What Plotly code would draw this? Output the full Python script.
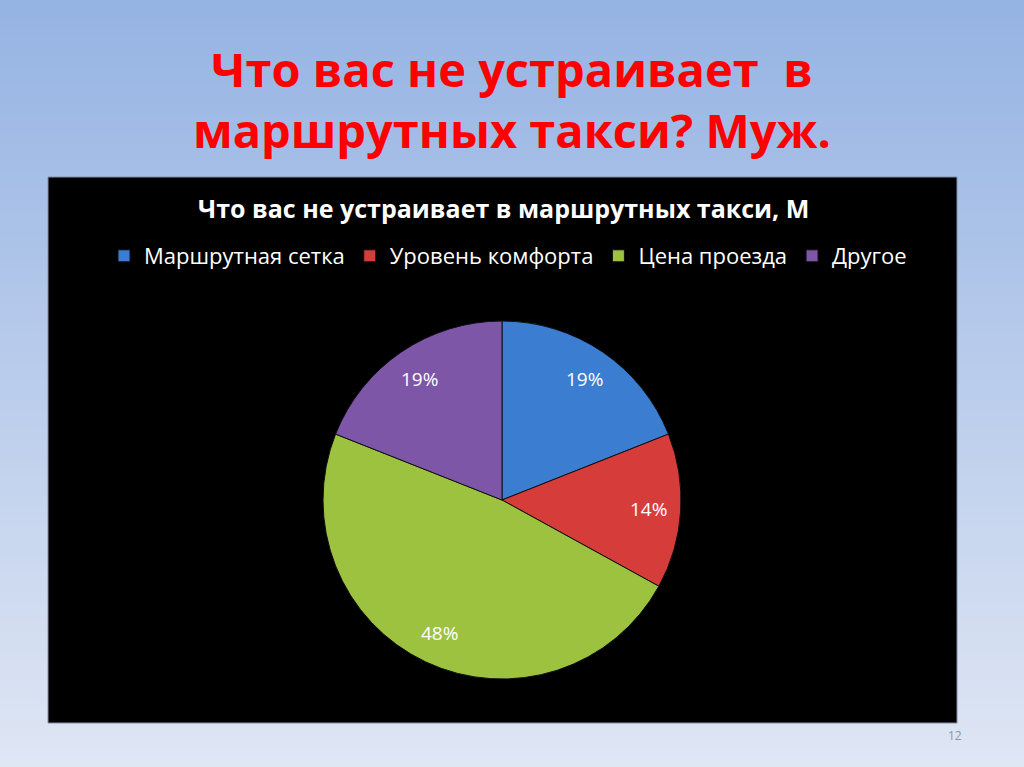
import math
import plotly.graph_objects as go

categories = ['Маршрутная сетка', 'Уровень комфорта', 'Цена проезда', 'Другое']
values = [19, 14, 48, 19]
colors = ['#3b7dd0', '#d63c3a', '#9cc23f', '#7d56a8']

slide_title = 'Что вас не устраивает  в<br>маршрутных такси? Муж.'
chart_title = 'Что вас не устраивает в маршрутных такси, М'
page_number = '12'

W, H = 1024, 767
# pie placement in pixels
cx, cy, R = 502, 500, 179

fig = go.Figure()

fig.add_trace(
    go.Pie(
        labels=categories,
        values=values,
        sort=False,
        direction='clockwise',
        rotation=0,
        marker=dict(colors=colors, line=dict(color='#101010', width=1)),
        textinfo='none',
        hoverinfo='label+percent',
        domain=dict(x=[(cx - R) / W, (cx + R) / W], y=[1 - (cy + R) / H, 1 - (cy - R) / H]),
    )
)

# data labels, placed like Excel does (towards the outer part of each slice)
annotations = []
total = sum(values)
acc = 0
for v in values:
    mid = (acc + v / 2) / total * 2 * math.pi
    acc += v
    r = 0.82 * R
    annotations.append(dict(
        text='%d%%' % round(v / total * 100),
        x=(cx + r * math.sin(mid)) / W, y=1 - (cy - r * math.cos(mid)) / H,
        xref='paper', yref='paper', xanchor='center', yanchor='middle',
        showarrow=False, font=dict(family='Open Sans', size=19, color='white'),
    ))

# slide background: vertical gradient built from thin bands
top = (149, 179, 227)
bottom = (223, 230, 244)
shapes = []
n = 80
for i in range(n):
    t = i / (n - 1)
    c = tuple(round(top[k] + (bottom[k] - top[k]) * t) for k in range(3))
    shapes.append(dict(
        type='rect', xref='paper', yref='paper',
        x0=0, x1=1, y0=1 - (i + 1) / n, y1=1 - i / n + 0.002,
        fillcolor='rgb(%d,%d,%d)' % c, line=dict(width=0), layer='below'
    ))
# black chart area
shapes.append(dict(
    type='rect', xref='paper', yref='paper',
    x0=48 / W, x1=957 / W, y0=1 - 723 / H, y1=1 - 177 / H,
    fillcolor='black', line=dict(color='#7f8fa8', width=1), layer='below'
))

annotations += [
    dict(text=slide_title, x=512 / W, y=1 - 99 / H, xref='paper', yref='paper',
         xanchor='center', yanchor='middle', showarrow=False,
         font=dict(family='Open Sans', size=47, color='#ff0000', weight='bold')),
    dict(text=chart_title, x=503 / W, y=1 - 208 / H, xref='paper', yref='paper',
         xanchor='center', yanchor='middle', showarrow=False,
         font=dict(family='Open Sans', size=25, color='white', weight='bold')),
    dict(text=page_number, x=955 / W, y=1 - 735 / H, xref='paper', yref='paper',
         xanchor='center', yanchor='middle', showarrow=False,
         font=dict(family='Open Sans', size=12, color='#8c96a8')),
]

fig.update_layout(
    width=W,
    height=H,
    margin=dict(l=0, r=0, t=0, b=0),
    paper_bgcolor='#dfe6f4',
    shapes=shapes,
    showlegend=True,
    legend=dict(
        orientation='h',
        x=508 / W, xanchor='center',
        y=1 - 256 / H, yanchor='middle',
        font=dict(family='Open Sans', size=22, color='white'),
        bgcolor='rgba(0,0,0,0)',
        itemwidth=30,
        traceorder='normal',
    ),
    annotations=annotations,
)

fig.write_html('out.html', config={'displayModeBar': False},
               post_script="document.body.style.margin='0';")
